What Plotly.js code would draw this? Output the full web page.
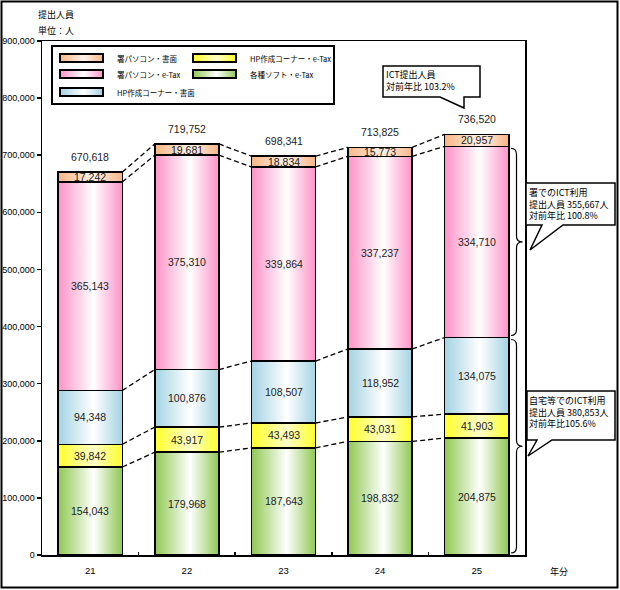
<!DOCTYPE html>
<html>
<head>
<meta charset="utf-8">
<script src="https://cdn.plot.ly/plotly-3.0.1.min.js"></script>
<style>html,body{margin:0;padding:0;background:#fff;}#chart{width:620px;height:590px;}</style>
</head>
<body>
<div id="chart"></div>
<script>
// ---- data ----
const years = ['21', '22', '23', '24', '25'];
const softETax = [154043, 179968, 187643, 198832, 204875];   // 各種ソフト・e-Tax
const hpETax   = [39842, 43917, 43493, 43031, 41903];        // HP作成コーナー・e-Tax
const hpPaper  = [94348, 100876, 108507, 118952, 134075];    // HP作成コーナー・書面
const pcETax   = [365143, 375310, 339864, 337237, 334710];   // 署パソコン・e-Tax
const pcPaper  = [17242, 19681, 18834, 15773, 20957];        // 署パソコン・書面
const totals   = [670618, 719752, 698341, 713825, 736520];
const seriesNames = ['各種ソフト・e-Tax', 'HP作成コーナー・e-Tax', 'HP作成コーナー・書面', '署パソコン・e-Tax', '署パソコン・書面'];
const yTicks = [0, 100000, 200000, 300000, 400000, 500000, 600000, 700000, 800000, 900000];
const titleLines = ['提出人員', '単位：人'];
const xUnit = '年分';
const calloutTotal = ['ICT提出人員', '対前年比 103.2%'];
const calloutOffice = ['署でのICT利用', '提出人員 355,667人', '対前年比 100.8%'];
const calloutHome = ['自宅等でのICT利用', '提出人員 380,853人', '対前年比105.6%'];

// ---- styles ----
const series = [softETax, hpETax, hpPaper, pcETax, pcPaper];
const edgeColors = ['#8fc852', '#ffff2a', '#a3d3e3', '#ff92c8', '#f6b585'];
const midColors  = ['#ffffff', '#ffffc8', '#ffffff', '#ffffff', '#fff3ea'];
const BARW = 0.665;
const L = 42, R = 525, T = 41, B = 555;
const PX = x => (x - L) / (R - L);
const PY = y => (B - y) / (B - T);
const YMAX = 900000;
const dpp = YMAX / (B - T);
const numFont = {family: 'Liberation Sans, Arial, sans-serif', size: 10.5, color: '#222'};
const jpFont = {family: 'Noto Sans CJK JP, sans-serif', size: 9, color: '#000'};

const xs = years.map((_, i) => i);
const cum = [];
{
  let run = years.map(() => 0);
  cum.push(run.slice());
  series.forEach(s => { run = run.map((v, i) => v + s[i]); cum.push(run.slice()); });
}

const traces = [];
series.forEach((s, k) => {
  traces.push({
    type: 'bar', x: xs, y: s, name: seriesNames[k], width: BARW,
    marker: {color: edgeColors[k], line: {color: '#000', width: 1.5}},
    hoverinfo: 'skip'
  });
});
// dashed connectors
for (let k = 1; k <= series.length; k++) {
  const cx = [], cy = [];
  for (let i = 0; i < years.length - 1; i++) {
    cx.push(i + BARW / 2, i + 1 - BARW / 2, null);
    cy.push(cum[k][i], cum[k][i + 1], null);
  }
  traces.push({type: 'scatter', mode: 'lines', x: cx, y: cy, line: {color: '#000', width: 1.3, dash: '5px,3px'}, hoverinfo: 'skip', showlegend: false});
}

const annotations = [];
series.forEach((s, k) => {
  s.forEach((v, i) => {
    annotations.push({x: i, y: cum[k][i] + v / 2, xref: 'x', yref: 'y', text: v.toLocaleString('en-US'), showarrow: false, font: numFont});
  });
});
totals.forEach((v, i) => {
  annotations.push({x: i, y: v, xref: 'x', yref: 'y', yanchor: 'bottom', yshift: 7, text: v.toLocaleString('en-US'), showarrow: false, font: numFont});
});
titleLines.forEach((t, j) => {
  annotations.push({x: PX(36), y: PY(15 + j * 15), xref: 'paper', yref: 'paper', xanchor: 'left', yanchor: 'middle', text: t, showarrow: false, font: jpFont});
});
annotations.push({x: PX(559), y: PY(571), xref: 'paper', yref: 'paper', xanchor: 'center', yanchor: 'middle', text: xUnit, showarrow: false, font: jpFont});

const shapes = [];
// outer frame
shapes.push({type: 'rect', xref: 'paper', yref: 'paper', x0: PX(1.5), x1: PX(617.5), y0: PY(1.5), y1: PY(587.5), line: {color: '#000', width: 2}});
// legend box
shapes.push({type: 'rect', xref: 'paper', yref: 'paper', x0: PX(52), x1: PX(334), y0: PY(46), y1: PY(104), line: {color: '#000', width: 2}, fillcolor: '#fff'});
const legendPos = [[193, 74], [193, 58], [60, 92], [60, 74], [60, 58]]; // per series (swatch left, row center)
const swatchIdx = [];
series.forEach((s, k) => {
  const [lx, ly] = legendPos[k];
  swatchIdx.push(shapes.length);
  shapes.push({type: 'rect', xref: 'paper', yref: 'paper', x0: PX(lx), x1: PX(lx + 43), y0: PY(ly - 4), y1: PY(ly + 4), line: {color: '#000', width: 2}, fillcolor: edgeColors[k]});
  annotations.push({x: PX(lx + 55), y: PY(ly), xref: 'paper', yref: 'paper', xanchor: 'left', yanchor: 'middle', text: seriesNames[k], showarrow: false, font: {family: 'Noto Sans CJK JP, sans-serif', size: 7.5, color: '#000'}});
});
// braces on last bar
function bracePath(topV, botV) {
  const a = PX(511), b = PX(516.5), c = PX(522.5);
  const yt = topV - 2 * dpp, yb = botV + 2 * dpp, ym = (yt + yb) / 2, r = 6 * dpp;
  return `M ${a},${yt} Q ${b},${yt} ${b},${yt - r} L ${b},${ym + r} Q ${b},${ym} ${c},${ym} Q ${b},${ym} ${b},${ym - r} L ${b},${yb + r} Q ${b},${yb} ${a},${yb}`;
}
const last = years.length - 1;
shapes.push({type: 'path', xref: 'paper', yref: 'y', path: bracePath(cum[5][last] - pcPaper[last], cum[3][last]), line: {color: '#000', width: 1.2}});
shapes.push({type: 'path', xref: 'paper', yref: 'y', path: bracePath(cum[3][last], 0), line: {color: '#000', width: 1.2}});
// callouts
function calloutPath(pts) {
  return 'M ' + pts.map(p => `${PX(p[0])},${PY(p[1])}`).join(' L ') + ' Z';
}
shapes.push({type: 'path', xref: 'paper', yref: 'paper', fillcolor: '#fff', line: {color: '#000', width: 1.5},
  path: calloutPath([[383, 66], [480, 66], [480, 97], [464, 97], [464, 108], [440, 97], [383, 97]])});
shapes.push({type: 'path', xref: 'paper', yref: 'paper', fillcolor: '#fff', line: {color: '#000', width: 1.5},
  path: calloutPath([[526, 183], [615, 183], [615, 225], [563, 225], [530, 250], [542, 225], [526, 225]])});
shapes.push({type: 'path', xref: 'paper', yref: 'paper', fillcolor: '#fff', line: {color: '#000', width: 1.5},
  path: calloutPath([[527, 391], [615, 391], [615, 440], [552, 440], [528, 456], [537, 440], [527, 440]])});
const calloutFont = {family: 'Noto Sans CJK JP, sans-serif', size: 9, color: '#000'};
[[calloutTotal, 385, 67], [calloutOffice, 528, 185], [calloutHome, 528, 393]].forEach(([lines, x, y]) => {
  annotations.push({x: PX(x), y: PY(y), xref: 'paper', yref: 'paper', xanchor: 'left', yanchor: 'top', align: 'left', text: lines.join('<br>'), showarrow: false, font: calloutFont, borderpad: 0});
});

const layout = {
  width: 620, height: 590,
  margin: {l: L, r: 620 - R, t: T, b: 590 - B, pad: 0},
  paper_bgcolor: '#fff', plot_bgcolor: '#fff',
  showlegend: false, barmode: 'stack',
  font: {family: 'Liberation Sans, Arial, sans-serif', size: 9, color: '#000'},
  xaxis: {
    range: [-0.5, 4.5], tickmode: 'array', tickvals: xs, ticktext: years, ticks: '',
    showline: true, mirror: true, linecolor: '#000', linewidth: 1.5, showgrid: false, zeroline: false,
    ticklabelstandoff: 6, tickfont: {size: 9.5},
    minor: {tickmode: 'array', tickvals: xs.slice(0, -1).map(v => v + 0.5), ticks: 'inside', ticklen: 3, tickwidth: 1.5, tickcolor: '#000'}
  },
  yaxis: {
    range: [0, YMAX], tickmode: 'array', tickvals: yTicks, tickformat: ',d', ticks: 'outside', ticklen: 4, tickwidth: 1.5, tickcolor: '#000',
    showline: true, mirror: true, linecolor: '#000', linewidth: 1.5, showgrid: false, zeroline: false, tickfont: {size: 9}
  },
  shapes: shapes, annotations: annotations
};

Plotly.newPlot('chart', traces, layout, {staticPlot: true, displayModeBar: false}).then(gd => {
  const svgNS = 'http://www.w3.org/2000/svg';
  const svg = gd.querySelector('svg.main-svg');
  const defs = document.createElementNS(svgNS, 'defs');
  edgeColors.forEach((c, k) => {
    const g = document.createElementNS(svgNS, 'linearGradient');
    g.setAttribute('id', 'grad' + k);
    g.setAttribute('x1', '0'); g.setAttribute('x2', '1'); g.setAttribute('y1', '0'); g.setAttribute('y2', '0');
    [[0, c], [0.55, midColors[k]], [1, c]].forEach(([o, col]) => {
      const st = document.createElementNS(svgNS, 'stop');
      st.setAttribute('offset', o); st.setAttribute('stop-color', col);
      g.appendChild(st);
    });
    defs.appendChild(g);
  });
  svg.insertBefore(defs, svg.firstChild);
  gd.querySelectorAll('g.barlayer g.trace').forEach((tr, k) => {
    tr.querySelectorAll('path').forEach(p => { p.style.fill = 'url(#grad' + k + ')'; });
  });
  swatchIdx.forEach((idx, k) => {
    gd.querySelectorAll('path[data-index="' + idx + '"]').forEach(p => { p.style.fill = 'url(#grad' + k + ')'; });
  });
});
</script>
</body>
</html>
